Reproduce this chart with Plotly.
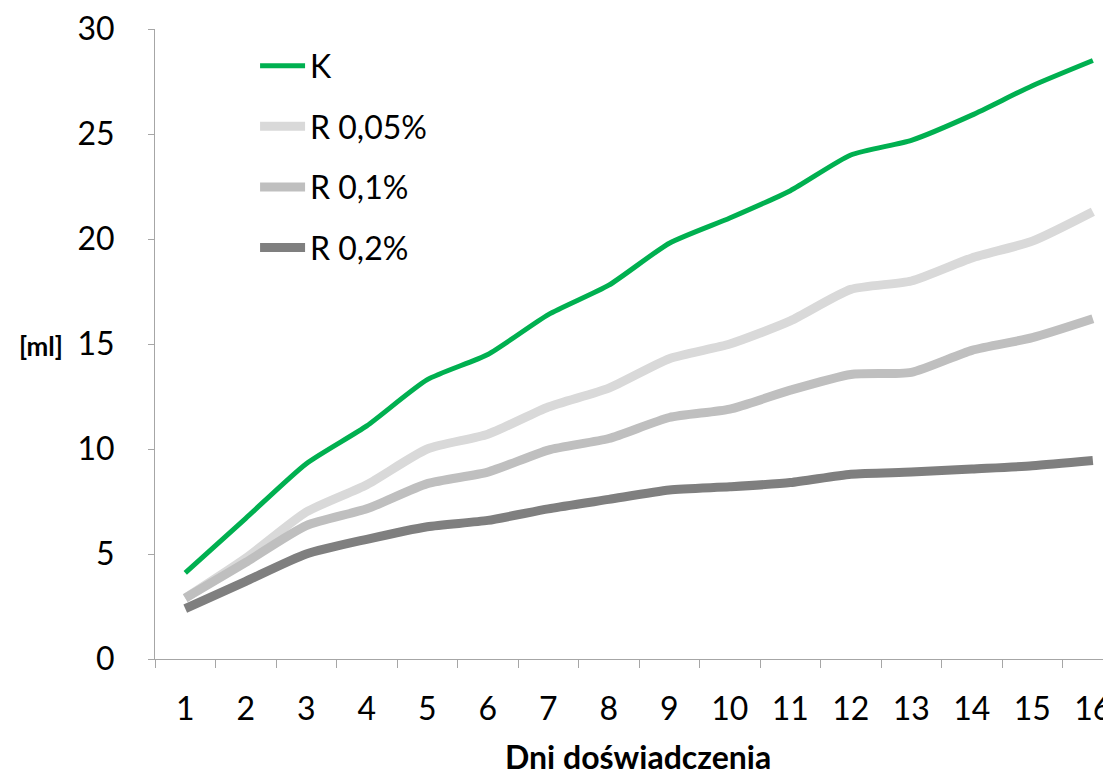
import plotly.graph_objects as go

# days of the experiment
days = [str(d) for d in range(1, 17)]

# cumulative volume [ml] per group
k_vals = [4.1, 6.7, 9.3, 11.1, 13.3, 14.5, 16.4, 17.8, 19.8, 21.0, 22.3, 24.0, 24.7, 25.9, 27.3, 28.5]
r005_vals = [2.9, 4.8, 7.0, 8.3, 10.0, 10.7, 12.0, 12.9, 14.3, 15.0, 16.1, 17.6, 18.0, 19.1, 19.9, 21.3]
r01_vals = [2.9, 4.6, 6.35, 7.15, 8.35, 8.9, 9.95, 10.5, 11.5, 11.9, 12.8, 13.55, 13.65, 14.7, 15.3, 16.2]
r02_vals = [2.4, 3.7, 5.0, 5.7, 6.3, 6.6, 7.15, 7.6, 8.05, 8.2, 8.4, 8.8, 8.9, 9.05, 9.2, 9.45]

series = [
    ("K", k_vals, "#00b050", 5),
    ("R 0,05%", r005_vals, "#d9d9d9", 9),
    ("R 0,1%", r01_vals, "#bfbfbf", 9),
    ("R 0,2%", r02_vals, "#7f7f7f", 9),
]

font_family = "Lato, Noto Sans, sans-serif"

fig = go.Figure()
for name, vals, color, width in series:
    fig.add_trace(go.Scatter(
        x=days, y=vals, name=name, mode="lines", legendgroup=name,
        line=dict(color=color, width=width, shape="spline", smoothing=0.6),
    ))

# page body has an 8px margin, so the figure is a bit smaller than the window
fig.update_layout(
    width=1103, height=768,
    paper_bgcolor="white", plot_bgcolor="white",
    margin=dict(l=147, r=0, t=18, b=117),
    font=dict(family=font_family, color="black"),
    showlegend=True,
    legend=dict(
        x=0.105, y=0.985, xanchor="left", yanchor="top",
        font=dict(size=32, color="black"), itemwidth=45,
        bgcolor="rgba(0,0,0,0)", tracegroupgap=16,
    ),
)

fig.update_xaxes(
    type="category", range=[-0.5, 15.25],
    showline=True, linecolor="#a6a6a6", linewidth=1,
    ticks="outside", ticklen=8, tickcolor="#a6a6a6", tickson="boundaries",
    tickfont=dict(size=32, color="black"), ticklabelstandoff=22,
    ticklabeloverflow="allow",
    showgrid=False, zeroline=False,
)
fig.update_yaxes(
    range=[0, 30], tickvals=[0, 5, 10, 15, 20, 25, 30],
    showline=True, linecolor="#a6a6a6", linewidth=1,
    ticks="outside", ticklen=6, tickcolor="#a6a6a6",
    tickfont=dict(size=32, color="black"), ticklabelstandoff=27,
    ticklabeloverflow="allow",
    showgrid=False, zeroline=False,
)

fig.add_annotation(
    text="<b>Dni doświadczenia</b>", xref="paper", yref="paper",
    x=0.507, y=-0.155, xanchor="center", yanchor="middle",
    showarrow=False, font=dict(size=32, color="black"),
)
fig.add_annotation(
    text="<b>[ml]</b>", xref="paper", yref="y",
    x=-0.12, y=14.9, xanchor="center", yanchor="middle",
    showarrow=False, font=dict(size=26, color="black"),
)

fig.write_html("out.html")
